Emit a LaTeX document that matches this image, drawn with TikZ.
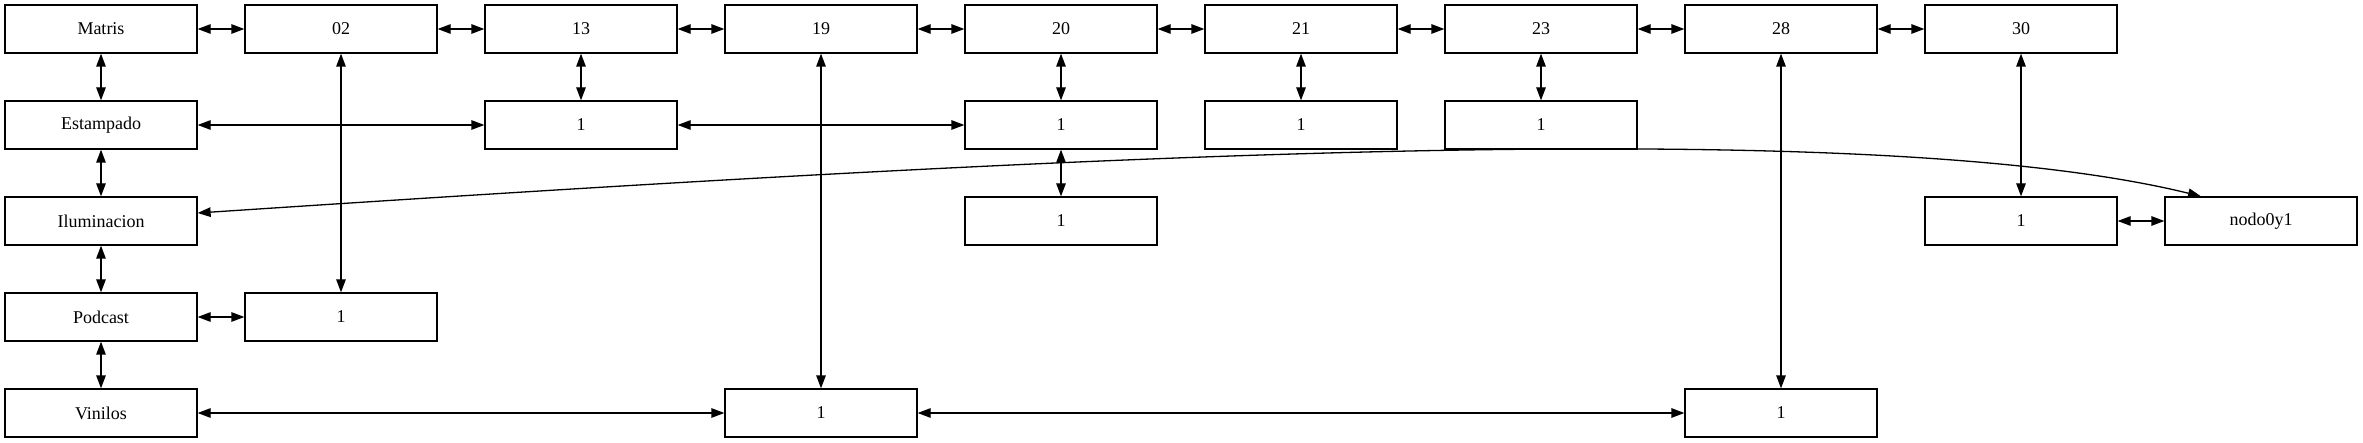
\documentclass[tikz,border=0pt]{standalone}
\usepackage{fontspec}
\setmainfont{Liberation Serif}
\usetikzlibrary{arrows.meta,calc}
\begin{document}
\begin{tikzpicture}[x=1pt,y=-1pt,
  box/.style={draw=black,line width=1.3pt,rectangle,minimum width=192pt,minimum height=48pt,inner sep=0pt,
    font=\fontsize{18}{21}\selectfont},
  link/.style={line width=1.3pt,{Triangle[length=13pt,width=9.5pt]}-{Triangle[length=13pt,width=9.5pt]}}]
\useasboundingbox (0,0) rectangle (2363,443);
% row 0
\node[box] (matris) at (101,29) {Matris};
\node[box] (n02) at (341,29) {02};
\node[box] (n13) at (581,29) {13};
\node[box] (n19) at (821,29) {19};
\node[box] (n20) at (1061,29) {20};
\node[box] (n21) at (1301,29) {21};
\node[box] (n23) at (1541,29) {23};
\node[box] (n28) at (1781,29) {28};
\node[box] (n30) at (2021,29) {30};
% row 1
\node[box] (estampado) at (101,125) {Estampado};
\node[box] (a13) at (581,125) {1};
\node[box] (a20) at (1061,125) {1};
\node[box] (a21) at (1301,125) {1};
\node[box] (a23) at (1541,125) {1};
% row 2
\node[box] (ilum) at (101,221) {Iluminacion};
\node[box] (b20) at (1061,221) {1};
\node[box] (b30) at (2021,221) {1};
\node[box] (nodo) at (2261,221) {nodo0y1};
% row 3
\node[box] (podcast) at (101,317) {Podcast};
\node[box] (c02) at (341,317) {1};
% row 4
\node[box] (vinilos) at (101,413) {Vinilos};
\node[box] (d19) at (821,413) {1};
\node[box] (d28) at (1781,413) {1};
% row 0 chain
\draw[link] (matris) -- (n02);
\draw[link] (n02) -- (n13);
\draw[link] (n13) -- (n19);
\draw[link] (n19) -- (n20);
\draw[link] (n20) -- (n21);
\draw[link] (n21) -- (n23);
\draw[link] (n23) -- (n28);
\draw[link] (n28) -- (n30);
% column 0 chain
\draw[link] (matris) -- (estampado);
\draw[link] (estampado) -- (ilum);
\draw[link] (ilum) -- (podcast);
\draw[link] (podcast) -- (vinilos);
% others
\draw[link] (n02) -- (c02);
\draw[link] (podcast) -- (c02);
\draw[link] (n13) -- (a13);
\draw[link] (estampado) -- (a13);
\draw[link] (a13) -- (a20);
\draw[link] (n20) -- (a20);
\draw[link] (a20) -- (b20);
\draw[link] (n21) -- (a21);
\draw[link] (n23) -- (a23);
\draw[link] (n19) -- (d19);
\draw[link] (vinilos) -- (d19);
\draw[link] (d19) -- (d28);
\draw[link] (n28) -- (d28);
\draw[link] (n30) -- (b30);
\draw[link] (b30) -- (nodo);
\draw[link] ($(ilum.east)+(0,-8)$) .. controls (1000,160) and (1850,110) .. ($(nodo.north)+(-60,0)$);
\end{tikzpicture}
\end{document}
